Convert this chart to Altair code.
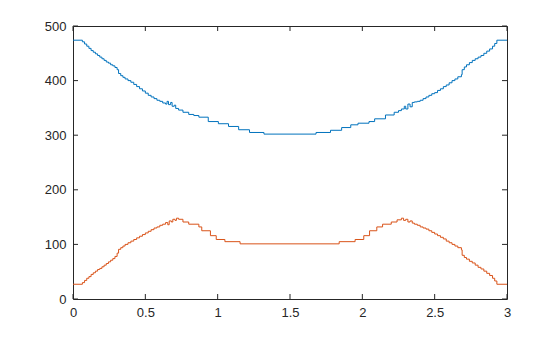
import altair as alt
import pandas as pd

# Blue series (step curve)
blue_t = [0.000, 0.065, 0.080, 0.095, 0.110, 0.125, 0.140, 0.155, 0.170, 0.185,
          0.200, 0.215, 0.230, 0.245, 0.260, 0.275, 0.290, 0.305, 0.315, 0.330,
          0.345, 0.360, 0.380, 0.400, 0.420, 0.440, 0.460, 0.480, 0.500, 0.520,
          0.540, 0.560, 0.580, 0.600, 0.620, 0.640, 0.650, 0.660, 0.675, 0.685,
          0.700, 0.710, 0.730, 0.760, 0.800, 0.835, 0.870, 0.935, 1.005, 1.075,
          1.145, 1.220, 1.320, 1.680, 1.780, 1.857, 1.920, 1.970, 2.046, 2.085,
          2.160, 2.220, 2.250, 2.270, 2.290, 2.300, 2.315, 2.330, 2.345, 2.360,
          2.380, 2.400, 2.420, 2.440, 2.460, 2.480, 2.500, 2.520, 2.540, 2.560,
          2.580, 2.600, 2.620, 2.640, 2.660, 2.685, 2.690, 2.705, 2.720, 2.740,
          2.760, 2.780, 2.800, 2.820, 2.840, 2.860, 2.880, 2.900, 2.915, 2.930,
          3.000]
blue_v = [474, 471, 467, 463, 459, 455, 452, 449, 446, 443,
          440, 437, 434, 432, 429, 427, 424, 420, 413, 409,
          406, 403, 400, 397, 393, 389, 385, 381, 377, 373,
          370, 367, 364, 362, 359, 357, 362, 356, 360, 353,
          355, 349, 346, 342, 338, 336, 333, 325, 321, 316,
          310, 305, 302, 305, 309, 314, 319, 322, 325, 330,
          337, 342, 345, 348, 353, 348, 357, 352, 360, 361,
          362, 364, 367, 370, 373, 376, 378, 382, 385, 389,
          392, 396, 400, 403, 407, 411, 420, 425, 429, 433,
          437, 440, 443, 446, 450, 454, 458, 463, 468, 474,
          474]

# Orange series (step curve)
orange_t = [0.000, 0.065, 0.080, 0.095, 0.110, 0.125, 0.140, 0.155, 0.170, 0.185,
            0.200, 0.215, 0.230, 0.245, 0.260, 0.275, 0.290, 0.305, 0.315, 0.330,
            0.345, 0.360, 0.380, 0.400, 0.420, 0.440, 0.460, 0.480, 0.500, 0.520,
            0.540, 0.560, 0.580, 0.600, 0.620, 0.640, 0.655, 0.665, 0.680, 0.690,
            0.705, 0.715, 0.730, 0.760, 0.800, 0.870, 0.890, 0.950, 0.990, 1.050,
            1.155, 1.840, 1.950, 2.010, 2.050, 2.100, 2.140, 2.200, 2.240, 2.270,
            2.285, 2.300, 2.315, 2.330, 2.345, 2.360, 2.380, 2.400, 2.420, 2.440,
            2.460, 2.480, 2.500, 2.520, 2.540, 2.560, 2.580, 2.600, 2.620, 2.640,
            2.660, 2.685, 2.690, 2.705, 2.720, 2.740, 2.760, 2.780, 2.800, 2.820,
            2.840, 2.860, 2.880, 2.900, 2.915, 2.930, 3.000]
orange_v = [27, 30, 34, 38, 41, 45, 48, 51, 54, 56,
            59, 62, 65, 68, 71, 74, 78, 84, 91, 94,
            97, 100, 103, 106, 109, 112, 115, 118, 121, 124,
            127, 130, 132, 135, 137, 140, 136, 143, 141, 146,
            144, 148, 146, 141, 137, 132, 125, 116, 109, 105,
            101, 105, 109, 116, 125, 132, 137, 141, 145, 148,
            144, 146, 141, 143, 139, 137, 135, 132, 130, 128,
            125, 122, 119, 116, 113, 110, 106, 103, 100, 97,
            94, 90, 80, 76, 73, 69, 66, 62, 58, 55,
            51, 47, 43, 38, 33, 27, 27]

x_ticks = [0, 0.5, 1, 1.5, 2, 2.5, 3]
y_ticks = [0, 100, 200, 300, 400, 500]

W, H = 434, 273
AX = "#262626"

df = pd.concat([
    pd.DataFrame({"t": blue_t, "v": blue_v, "s": "A"}),
    pd.DataFrame({"t": orange_t, "v": orange_v, "s": "B"}),
])

xs = alt.Scale(domain=[0, 3], nice=False, zero=False)
ys = alt.Scale(domain=[0, 500], nice=False)

lines = alt.Chart(df).mark_line(interpolate="step-after", strokeWidth=1).encode(
    x=alt.X("t:Q", scale=xs, axis=alt.Axis(values=x_ticks, format="~g", title=None,
            ticks=False, domain=False, grid=False, labelPadding=7, labelFlush=False,
            labelOverlap=False, labelFontSize=13, labelFont="Liberation Sans", labelColor=AX)),
    y=alt.Y("v:Q", scale=ys, axis=alt.Axis(values=y_ticks, title=None,
            ticks=False, domain=False, grid=False, labelPadding=7, labelFlush=False,
            labelOverlap=False, labelFontSize=13, labelFont="Liberation Sans", labelColor=AX)),
    color=alt.Color("s:N", scale=alt.Scale(domain=["A", "B"], range=["#0072BD", "#D95319"]), legend=None),
    detail="s:N",
)

xt = pd.DataFrame({"x": x_ticks})
yt = pd.DataFrame({"y": y_ticks})

xb = alt.Chart(xt).mark_rule(color=AX, strokeWidth=1).encode(
    x=alt.X("x:Q", scale=xs), y=alt.value(H), y2=alt.value(H - 5))
xtop = alt.Chart(xt).mark_rule(color=AX, strokeWidth=1).encode(
    x=alt.X("x:Q", scale=xs), y=alt.value(0), y2=alt.value(5))
yl = alt.Chart(yt).mark_rule(color=AX, strokeWidth=1).encode(
    y=alt.Y("y:Q", scale=ys), x=alt.value(0), x2=alt.value(5))
yr = alt.Chart(yt).mark_rule(color=AX, strokeWidth=1).encode(
    y=alt.Y("y:Q", scale=ys), x=alt.value(W), x2=alt.value(W - 5))

chart = alt.layer(lines, xb, xtop, yl, yr).properties(
    width=W, height=H,
    autosize=alt.AutoSizeParams(type="none"),
    padding={"left": 73, "top": 26, "right": 53, "bottom": 38},
    background="white",
).configure_view(stroke=AX, strokeWidth=1)

chart.save("out.html", embed_options={"renderer": "svg", "actions": False})
